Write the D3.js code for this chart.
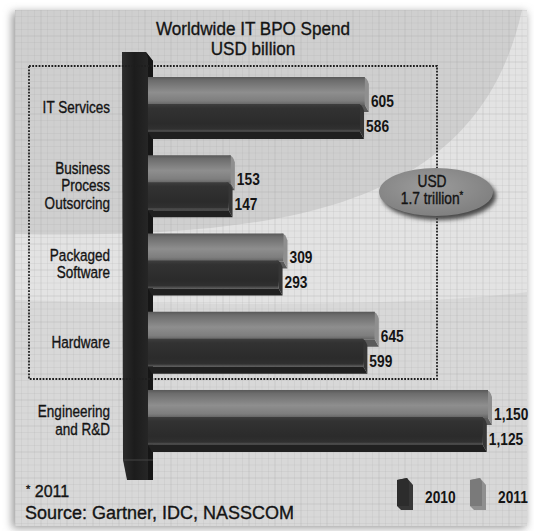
<!DOCTYPE html>
<html lang="en">
<head>
<meta charset="UTF-8">
<title>Worldwide IT BPO Spend</title>
<script src="https://d3js.org/d3.v7.min.js"></script>
<style>
  body { margin: 0; background: #fff; }
  text { font-family: "Liberation Sans", Arial, sans-serif; fill: #141414; }
  .heavy text, text.heavy { stroke: #141414; stroke-width: 0.35px; }
</style>
</head>
<body>
<svg id="chart" width="534" height="531"></svg>
<script>
// data
const categories = ["IT Services", "Business\nProcess\nOutsorcing", "Packaged\nSoftware", "Hardware", "Engineering\nand R&D"];
const values2010 = [586, 147, 293, 599, 1125];
const values2011 = [605, 153, 309, 645, 1150];
const years = ["2010", "2011"];

const svg = d3.select("#chart");
const defs = svg.append("defs");

// narrow text helper (the original uses a condensed face)
function ntext(parent, x, y, k, str) {
    return parent.append("text")
        .attr("transform", `translate(${x},${y}) scale(${k},1)`)
        .text(str);
}

// ---- panel background ----
const blur = defs.append("filter").attr("id", "blur").attr("x", "-10%").attr("y", "-10%").attr("width", "120%").attr("height", "120%");
blur.append("feGaussianBlur").attr("stdDeviation", 4);
const blur2 = defs.append("filter").attr("id", "blur2").attr("x", "-20%").attr("y", "-20%").attr("width", "140%").attr("height", "140%");
blur2.append("feGaussianBlur").attr("stdDeviation", 2);

defs.append("clipPath").attr("id", "panel")
    .append("rect").attr("x", 15).attr("y", 10).attr("width", 512).attr("height", 516);

svg.append("rect").attr("x", 12).attr("y", 12).attr("width", 514).attr("height", 516)
    .attr("fill", "#9a9a9a").attr("filter", "url(#blur)");

const bg = svg.append("g").attr("clip-path", "url(#panel)");
bg.append("rect").attr("x", 15).attr("y", 10).attr("width", 512).attr("height", 516).attr("fill", "#d8d8d8");
// light swoosh
bg.append("path").attr("d", "M15,10 L527,10 L527,292 C420,306 220,306 15,300 Z").attr("fill", "#e3e3e3");
// darker globe area
bg.append("path").attr("d", "M15,10 L522,10 C480,200 300,240 15,234 Z").attr("fill", "#cfcfcf");

// fine grid
const gridStep = 6.5;
const gx = d3.range(15, 527, gridStep), gy = d3.range(10, 526, gridStep);
bg.selectAll(".gv").data(gx).join("line")
    .attr("x1", d => d).attr("x2", d => d).attr("y1", 10).attr("y2", 526)
    .attr("stroke", "#a0a0a0").attr("stroke-opacity", (d, i) => i % 4 === 0 ? 0.4 : 0.2).attr("stroke-width", 0.7);
bg.selectAll(".gh").data(gy).join("line")
    .attr("y1", d => d).attr("y2", d => d).attr("x1", 15).attr("x2", 527)
    .attr("stroke", "#a0a0a0").attr("stroke-opacity", (d, i) => i % 4 === 0 ? 0.4 : 0.2).attr("stroke-width", 0.7);

// ---- title ----
const title = svg.append("g").attr("class", "heavy").attr("text-anchor", "middle").style("font-size", "19px");
ntext(title, 253, 35, 0.9, "Worldwide IT BPO Spend");
ntext(title, 253, 55, 0.9, "USD billion");

// ---- scales ----
const y = d3.scaleBand().domain(categories).range([77, 451]).paddingInner(0.22);
const x = d3.scalePow().exponent(0.7).domain([0, 1150]).range([0, 340]);
const x0 = 148, barH = 28, depthX = 4, depthY = 7;
const offset = { "2011": 0, "2010": 27 };

// gradients
const g11 = defs.append("linearGradient").attr("id", "g2011").attr("x1", 0).attr("y1", 0).attr("x2", 0).attr("y2", 1);
[[0, "#585858"], [0.12, "#6c6c6c"], [0.55, "#8e8e8e"], [0.85, "#7e7e7e"], [1, "#626262"]]
    .forEach(s => g11.append("stop").attr("offset", s[0]).attr("stop-color", s[1]));
const g10 = defs.append("linearGradient").attr("id", "g2010").attr("x1", 0).attr("y1", 0).attr("x2", 0).attr("y2", 1);
[[0, "#3e3e3e"], [0.15, "#323232"], [0.7, "#2b2b2b"], [0.9, "#303030"], [0.96, "#505050"], [1, "#3a3a3a"]]
    .forEach(s => g10.append("stop").attr("offset", s[0]).attr("stop-color", s[1]));
const gPost = defs.append("linearGradient").attr("id", "gPost").attr("x1", 0).attr("y1", 0).attr("x2", 1).attr("y2", 0);
[[0, "#2c2c2c"], [0.4, "#1c1c1c"], [0.85, "#262626"], [1, "#303030"]]
    .forEach(s => gPost.append("stop").attr("offset", s[0]).attr("stop-color", s[1]));

// ---- axis post ----
svg.append("path").attr("d", "M122,52 L146,52 L153,61 L153,480 L127,480 L123,460 Z").attr("fill", "url(#gPost)");
svg.append("path").attr("d", "M146,52 L153,61 L153,480 L148,480 L148,58 Z").attr("fill", "#161616");
svg.append("line").attr("x1", 123).attr("x2", 153).attr("y1", 460).attr("y2", 460).attr("stroke", "#444").attr("stroke-width", 1);

// ---- bars ----
const styles = {
    "2011": { face: "url(#g2011)", side: "#8f8f8f", bottom: "#5a5a5a" },
    "2010": { face: "url(#g2010)", side: "#363636", bottom: "#202020" }
};
const series = [
    { year: "2011", values: values2011 },
    { year: "2010", values: values2010 }
];

series.forEach(s => {
    const st = styles[s.year];
    const rows = categories.map((c, i) => ({ cat: c, v: s.values[i], yy: y(c) + offset[s.year], x1: x0 + x(s.values[i]) }));
    const g = svg.append("g").attr("class", "bars-" + s.year);
    // bottom face
    g.selectAll(".bottom").data(rows).join("path")
        .attr("d", d => `M${x0},${d.yy + barH} L${d.x1},${d.yy + barH} L${d.x1 + depthX},${d.yy + barH + depthY} L${x0 + depthX},${d.yy + barH + depthY} Z`)
        .attr("fill", st.bottom);
    // right face
    g.selectAll(".side").data(rows).join("path")
        .attr("d", d => `M${d.x1 - 2},${d.yy} Q${d.x1 + 2},${d.yy} ${d.x1 + depthX},${d.yy + depthY} L${d.x1 + depthX},${d.yy + barH + depthY} L${d.x1},${d.yy + barH} Z`)
        .attr("fill", st.side);
    // front face
    g.selectAll(".face").data(rows).join("rect")
        .attr("x", x0).attr("y", d => d.yy)
        .attr("width", d => d.x1 - x0).attr("height", barH)
        .attr("fill", st.face);
});

// ---- dotted frame ----
svg.append("rect").attr("x", 29).attr("y", 66).attr("width", 408).attr("height", 313)
    .attr("fill", "none").attr("stroke", "#1e1e1e").attr("stroke-width", 1.8).attr("stroke-dasharray", "1.8,1.4");

// ---- value labels ----
const fmt = d3.format(",");
series.forEach(s => {
    const g = svg.append("g").style("font-size", "16px").style("font-weight", "bold");
    categories.forEach((c, i) => {
        const v = s.values[i];
        const yy = y(c) + offset[s.year];
        const base = s.year === "2011" ? yy + barH + 2 : yy + barH;
        ntext(g, x0 + x(v) + 6, base, 0.86, fmt(v));
    });
});

// ---- category labels ----
const catG = svg.append("g").attr("class", "heavy").attr("text-anchor", "end").style("font-size", "16.5px");
categories.forEach(c => {
    const lines = c.split("\n");
    const cy = y(c) + y.bandwidth() / 2;
    lines.forEach((ln, j) => {
        ntext(catG, 110, cy + 5.5 + (j - (lines.length - 1) / 2) * 17.5, 0.82, ln);
    });
});

// ---- USD 1.7 trillion bubble ----
const rg = defs.append("radialGradient").attr("id", "gBub").attr("cx", "45%").attr("cy", "40%").attr("r", "60%");
rg.append("stop").attr("offset", 0).attr("stop-color", "#9c9c9c");
rg.append("stop").attr("offset", 1).attr("stop-color", "#808080");
svg.append("ellipse").attr("cx", 439).attr("cy", 196).attr("rx", 57).attr("ry", 24).attr("fill", "#4a4a4a").attr("filter", "url(#blur2)");
svg.append("ellipse").attr("cx", 436).attr("cy", 192).attr("rx", 57).attr("ry", 24).attr("fill", "url(#gBub)");
const bub = svg.append("g").attr("class", "heavy").attr("text-anchor", "middle").style("font-size", "16px");
ntext(bub, 432, 187, 0.86, "USD");
const t2 = ntext(bub, 432, 204, 0.86, "1.7 trillion");
t2.append("tspan").attr("dy", -5).style("font-size", "11px").text("*");

// ---- legend ----
const lg = svg.append("g");
years.forEach((yr, i) => {
    const lx = 397 + i * 73, ly = 478;
    const st = styles[yr];
    lg.append("path").attr("d", `M${lx},${ly + 2} L${lx + 10},${ly} L${lx + 16},${ly + 7} L${lx + 16},${ly + 32} L${lx + 4},${ly + 32} L${lx},${ly + 28} Z`)
        .attr("fill", st.side);
    lg.append("path").attr("d", `M${lx},${ly + 2} L${lx + 10},${ly} L${lx + 12},${ly + 4} L${lx + 12},${ly + 28} L${lx},${ly + 28} Z`)
        .attr("fill", yr === "2011" ? "#7a7a7a" : "#2c2c2c");
    ntext(lg, lx + 28, 503, 0.86, yr).style("font-size", "16px").style("font-weight", "bold");
});

// ---- footnotes ----
const note = svg.append("text").attr("class", "heavy").attr("x", 26).attr("y", 497).style("font-size", "16px");
note.append("tspan").style("font-size", "11px").attr("dy", -4).text("*");
note.append("tspan").attr("dy", 4).text(" 2011");
svg.append("text").attr("class", "heavy").attr("x", 25).attr("y", 519).style("font-size", "18px").text("Source: Gartner, IDC, NASSCOM");
</script>
</body>
</html>
